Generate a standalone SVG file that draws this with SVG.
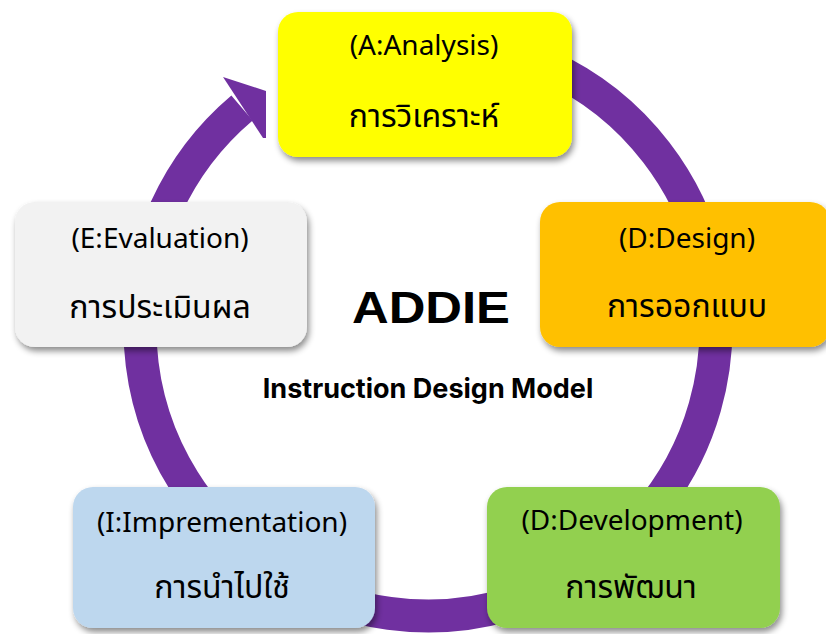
<svg xmlns="http://www.w3.org/2000/svg" width="826" height="634" viewBox="0 0 826 634">
<defs>
<filter id="sh" x="-10%" y="-10%" width="125%" height="130%">
<feDropShadow dx="2" dy="4" stdDeviation="3" flood-color="#000" flood-opacity="0.45"/>
</filter>
<style>
.box{filter:url(#sh)}
.lbl{font-family:"Noto Sans","Liberation Sans",sans-serif;font-size:28px;fill:#000;text-anchor:middle}
.th{font-family:"Noto Sans Thai","Noto Sans","DejaVu Sans",sans-serif;font-size:32px;fill:#000;text-anchor:middle}
</style>
</defs>
<rect width="826" height="634" fill="#fff"/>
<g id="connectors">
<path d="M 423 40 A 288 288 0 1 1 242 108" fill="none" stroke="#7030A0" stroke-width="33"/>
<polygon points="223,77 266,91 266,138 263,138" fill="#7030A0"/>
</g>
<g id="analysis">
<rect class="box" x="278" y="12" width="294" height="145" rx="20" fill="#FFFF00"/>
<text class="lbl" x="424" y="55">(A:Analysis)</text>
<text class="th" x="424" y="127">การวิเคราะห์</text>
</g>
<g id="design">
<rect class="box" x="540" y="202" width="290" height="145" rx="20" fill="#FFC000"/>
<text class="lbl" x="687" y="248">(D:Design)</text>
<text class="th" x="687" y="317">การออกแบบ</text>
</g>
<g id="evaluation">
<rect class="box" x="15" y="202" width="292" height="145" rx="20" fill="#F2F2F2"/>
<text class="lbl" x="160" y="248">(E:Evaluation)</text>
<text class="th" x="160" y="318">การประเมินผล</text>
</g>
<g id="implementation">
<rect class="box" x="73" y="487" width="302" height="141" rx="20" fill="#BDD7EE"/>
<text class="lbl" x="222" y="532">(I:Imprementation)</text>
<text class="th" x="222" y="598">การนำไปใช้</text>
</g>
<g id="development">
<rect class="box" x="487" y="487" width="293" height="141" rx="20" fill="#92D050"/>
<text class="lbl" x="632" y="530">(D:Development)</text>
<text class="th" x="631" y="598">การพัฒนา</text>
</g>
<g id="title">
<text x="431" y="323" font-family="Liberation Sans,sans-serif" font-weight="bold" font-size="45" text-anchor="middle" textLength="158" lengthAdjust="spacingAndGlyphs">ADDIE</text>
<text x="428" y="398" font-family="Inter,Liberation Sans,sans-serif" font-weight="bold" font-size="27" text-anchor="middle">Instruction Design Model</text>
</g>
</svg>
